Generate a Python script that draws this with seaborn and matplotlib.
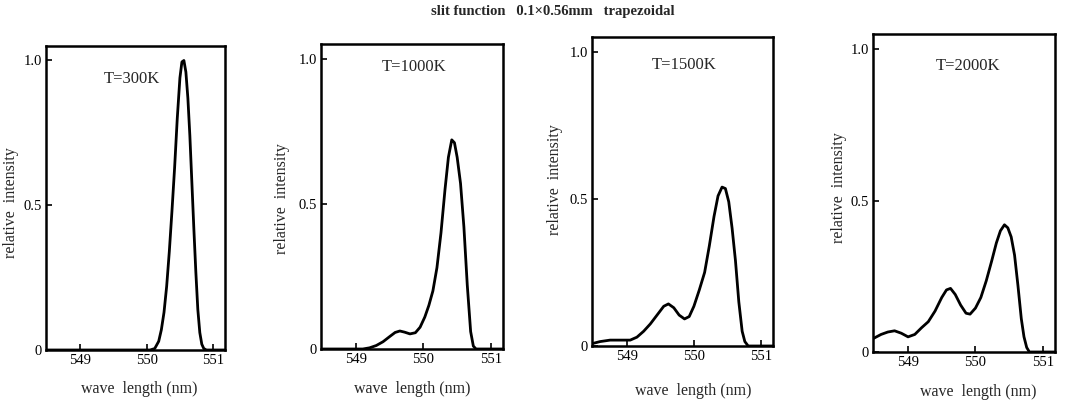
import matplotlib
matplotlib.use("Agg")
import matplotlib.pyplot as plt
import seaborn as sns
import numpy as np

# ---- data ----
wl_300 = [548.5, 550.05, 550.12, 550.18, 550.22, 550.26, 550.30, 550.34, 550.38, 550.42, 550.46,
          550.50, 550.53, 550.56, 550.59, 550.62, 550.65, 550.68, 550.71, 550.74, 550.77, 550.80,
          550.83, 550.86, 550.90, 551.2]
int_300 = [0, 0, 0.005, 0.03, 0.07, 0.13, 0.22, 0.34, 0.48, 0.63, 0.80,
           0.94, 0.995, 1.0, 0.96, 0.87, 0.74, 0.58, 0.42, 0.27, 0.14, 0.06,
           0.02, 0.005, 0, 0]

wl_1000 = [548.5, 549.1, 549.2, 549.3, 549.4, 549.5, 549.58, 549.65, 549.72, 549.8, 549.88, 549.95,
           550.02, 550.08, 550.14, 550.2, 550.26, 550.32, 550.37, 550.42, 550.46, 550.5, 550.55,
           550.6, 550.65, 550.7, 550.74, 550.78, 551.2]
int_1000 = [0, 0, 0.004, 0.012, 0.025, 0.043, 0.057, 0.062, 0.058, 0.052, 0.056, 0.075,
            0.11, 0.15, 0.20, 0.28, 0.40, 0.55, 0.66, 0.72, 0.71, 0.66, 0.57,
            0.42, 0.22, 0.06, 0.01, 0, 0]

wl_1500 = [548.48, 548.6, 548.75, 548.9, 549.05, 549.15, 549.25, 549.35, 549.45, 549.55, 549.62,
           549.7, 549.78, 549.86, 549.93, 550.0, 550.08, 550.16, 550.23, 550.3, 550.36, 550.42,
           550.47, 550.52, 550.57, 550.62, 550.67, 550.72, 550.76, 550.81, 551.2]
int_1500 = [0.008, 0.015, 0.02, 0.02, 0.02, 0.03, 0.05, 0.075, 0.105, 0.135, 0.143,
            0.13, 0.105, 0.092, 0.10, 0.135, 0.19, 0.25, 0.34, 0.44, 0.51, 0.54,
            0.535, 0.49, 0.40, 0.29, 0.15, 0.05, 0.015, 0, 0]

wl_2000 = [548.48, 548.6, 548.7, 548.8, 548.9, 549.0, 549.1, 549.2, 549.3, 549.4, 549.5, 549.57,
           549.63, 549.7, 549.78, 549.86, 549.92, 550.0, 550.08, 550.16, 550.24, 550.31, 550.37,
           550.43, 550.48, 550.53, 550.58, 550.63, 550.68, 550.72, 550.76, 550.8, 551.2]
int_2000 = [0.044, 0.058, 0.066, 0.07, 0.062, 0.05, 0.058, 0.08, 0.10, 0.135, 0.18, 0.205,
            0.21, 0.19, 0.155, 0.128, 0.125, 0.145, 0.18, 0.235, 0.30, 0.36, 0.40,
            0.42, 0.41, 0.38, 0.32, 0.22, 0.11, 0.05, 0.015, 0, 0]

panel_labels = ["T=300K", "T=1000K", "T=1500K", "T=2000K"]
x_ticks = [549, 550, 551]
x_ticklabels = ["549", "550", "551"]
y_ticks = [0, 0.5, 1.0]
y_ticklabels = ["0", "0.5", "1.0"]
title = "slit function   0.1×0.56mm   trapezoidal"
xlabel = "wave  length (nm)"
ylabel = "relative  intensity"

series = [(wl_300, int_300), (wl_1000, int_1000), (wl_1500, int_1500), (wl_2000, int_2000)]

# ---- layout ----
sns.set_theme(style="white")
plt.rcParams["font.family"] = ["Liberation Serif", "DejaVu Serif"]

W, H = 1066, 401
fig = plt.figure(figsize=(W / 100, H / 100), dpi=100)

# axes boxes in pixels: left, right, top, bottom
boxes = [(46, 225, 46, 350), (321, 503, 44, 349), (592, 773, 37, 346), (873, 1055, 34, 352)]
label_pos = [(0.32, 0.89), (0.335, 0.925), (0.33, 0.91), (0.346, 0.90)]
ylabel_pos = [(11, 203), (282, 199), (555, 180), (839, 188)]
xlabel_pos = [(139, 389), (412, 389), (693, 391), (978, 392)]

for i, ((xs, ys), (l, r, t, b)) in enumerate(zip(series, boxes)):
    ax = fig.add_axes([l / W, 1 - b / H, (r - l) / W, (b - t) / H])
    sns.lineplot(x=xs, y=ys, ax=ax, color="black", linewidth=2.0)
    ax.set_xlim(548.48, 551.18)
    ax.set_ylim(0, 1.05)
    ax.set_xticks(x_ticks)
    ax.set_xticklabels(x_ticklabels)
    ax.set_yticks(y_ticks)
    ax.set_yticklabels(y_ticklabels)
    ax.tick_params(direction="in", length=4, width=1.2, labelsize=10.5, pad=3,
                   bottom=True, left=True, colors="black")
    for sp in ax.spines.values():
        sp.set_linewidth(1.8)
        sp.set_color("black")
    ax.grid(False)
    ax.set_xlabel("")
    ax.set_ylabel("")
    ax.text(label_pos[i][0], label_pos[i][1], panel_labels[i], transform=ax.transAxes,
            ha="left", va="center", fontsize=12)
    fig.text(ylabel_pos[i][0] / W, 1 - ylabel_pos[i][1] / H, ylabel, rotation=90,
             ha="center", va="center", fontsize=11.5)
    fig.text(xlabel_pos[i][0] / W, 1 - xlabel_pos[i][1] / H, xlabel,
             ha="center", va="center", fontsize=11.5)

fig.text(553 / W, 1 - 12 / H, title, ha="center", va="center", fontsize=10.5, fontweight="bold")

fig.savefig("out.png", dpi=100, facecolor="white")
